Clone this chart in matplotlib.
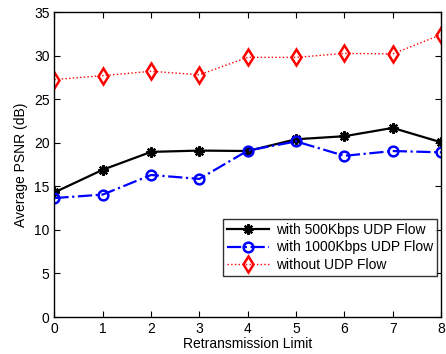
import matplotlib
matplotlib.use("Agg")
import matplotlib.pyplot as plt

plt.rcParams['font.family'] = ['Liberation Sans', 'DejaVu Sans']

retx = [0, 1, 2, 3, 4, 5, 6, 7, 8]
psnr_500k = [14.3, 16.9, 18.95, 19.1, 19.05, 20.4, 20.75, 21.7, 20.05]
psnr_1000k = [13.65, 14.05, 16.3, 15.85, 19.1, 20.15, 18.5, 19.05, 18.9]
psnr_no_udp = [27.25, 27.7, 28.2, 27.8, 29.8, 29.8, 30.25, 30.2, 32.4]

labels = ['with 500Kbps UDP Flow', 'with 1000Kbps UDP Flow', 'without UDP Flow']

fig = plt.figure(figsize=(4.46, 3.54), dpi=100)
ax = fig.add_axes([0.122, 0.1045, 0.867, 0.8615])

ax.plot(retx, psnr_500k, color='black', linestyle='-', linewidth=1.6,
        marker=(8, 2, 0), markersize=7.5, markeredgewidth=1.6, label=labels[0])
ax.plot(retx, psnr_1000k, color='#0000ff', linestyle='-.', linewidth=1.6,
        marker='o', markersize=7, markerfacecolor='none', markeredgewidth=1.8,
        label=labels[1])
ax.plot(retx, psnr_no_udp, color='#ff0000', linestyle=':', linewidth=1.0,
        marker='d', markersize=8, markerfacecolor='none', markeredgewidth=1.8,
        label=labels[2])

ax.set_xlim(0, 8)
ax.set_ylim(0, 35)
ax.set_xticks(range(0, 9))
ax.set_yticks(range(0, 36, 5))
ax.tick_params(direction='in', top=True, right=True, labelsize=10, length=4)
for s in ax.spines.values():
    s.set_linewidth(1.0)
ax.set_xlabel('Retransmission Limit', fontsize=10, labelpad=1)
ax.set_ylabel('Average PSNR (dB)', fontsize=10, labelpad=4)

leg = ax.legend(loc='lower right', bbox_to_anchor=(0.9965, 0.125), fontsize=10,
                frameon=True, fancybox=False, edgecolor='black',
                borderpad=0.3, handlelength=3.0, handletextpad=0.5,
                labelspacing=0.25, borderaxespad=0.2)
leg.get_frame().set_linewidth(1.0)

fig.savefig('out.png', dpi=100)
